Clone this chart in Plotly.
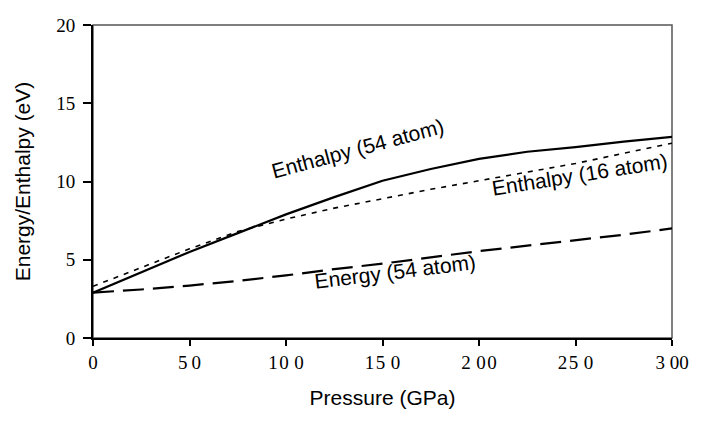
import plotly.graph_objects as go

pressure = [0, 25, 50, 75, 100, 125, 150, 175, 200, 225, 250, 275, 300]
enthalpy_54 = [2.9, 4.2, 5.5, 6.7, 7.9, 9.0, 10.05, 10.8, 11.45, 11.9, 12.2, 12.55, 12.85]
enthalpy_16 = [3.3, 4.5, 5.7, 6.8, 7.6, 8.3, 8.9, 9.5, 10.05, 10.6, 11.15, 11.8, 12.45]
energy_54 = [2.9, 3.1, 3.35, 3.65, 4.0, 4.4, 4.75, 5.15, 5.55, 5.9, 6.25, 6.6, 7.0]

x_ticks = [0, 50, 100, 150, 200, 250, 300]
x_tick_labels = ["0", "5\u20090", "1\u200a0\u2009\u200a0", "1\u200a5\u2009\u200a0",
                 "2\u2009\u200a0\u200a0", "2\u200a5\u2009\u200a0", "3 00"]
y_ticks = [0, 5, 10, 15, 20]

SERIF = "Liberation Serif"
SANS = "Liberation Sans"

fig = go.Figure()
fig.add_trace(go.Scatter(x=pressure, y=enthalpy_54, mode="lines",
                         line=dict(color="black", width=2.2), name="Enthalpy (54 atom)"))
fig.add_trace(go.Scatter(x=pressure, y=enthalpy_16, mode="lines",
                         line=dict(color="black", width=1.6, dash="5px,6px"), name="Enthalpy (16 atom)"))
fig.add_trace(go.Scatter(x=pressure, y=energy_54, mode="lines",
                         line=dict(color="black", width=2.2, dash="21px,9px"), name="Energy (54 atom)"))

fig.add_shape(type="rect", xref="paper", yref="paper", x0=0, y0=0, x1=1, y1=1,
              line=dict(color="#555555", width=1.5), layer="below")

ann_font = dict(family=SANS, size=21, color="black")
fig.add_annotation(x=137, y=12.1, text="Enthalpy (54 atom)", showarrow=False,
                   textangle=-15, font=ann_font)
fig.add_annotation(x=252, y=10.45, text="Enthalpy (16 atom)", showarrow=False,
                   textangle=-9, font=ann_font)
fig.add_annotation(x=156.5, y=4.25, text="Energy (54 atom)", showarrow=False,
                   textangle=-7, font=ann_font)

fig.update_layout(
    width=712, height=427,
    margin=dict(l=93, r=40, t=25, b=89),
    paper_bgcolor="white", plot_bgcolor="white",
    showlegend=False,
    xaxis=dict(range=[0, 300], tickmode="array", tickvals=x_ticks, ticktext=x_tick_labels,
               showgrid=False, zeroline=False, showline=True, linecolor="black", linewidth=2,
               ticks="outside", ticklen=6, tickcolor="black", tickwidth=1.5,
               tickfont=dict(family=SERIF, size=19, color="black"),
               title=dict(text="Pressure (GPa)", standoff=19,
                          font=dict(family=SANS, size=21, color="black"))),
    yaxis=dict(range=[0, 20], tickmode="array", tickvals=y_ticks,
               showgrid=False, zeroline=False, showline=True, linecolor="black", linewidth=2,
               ticks="outside", ticklen=8, tickcolor="black", tickwidth=1.5,
               ticklabelstandoff=4,
               tickfont=dict(family=SERIF, size=19, color="black"),
               title=dict(text="Energy/Enthalpy (eV)", standoff=20,
                          font=dict(family=SANS, size=21, color="black"))),
)

fig.write_html("out.html", config={"displayModeBar": False},
               post_script="document.body.style.margin='0';document.body.style.overflow='hidden';")
